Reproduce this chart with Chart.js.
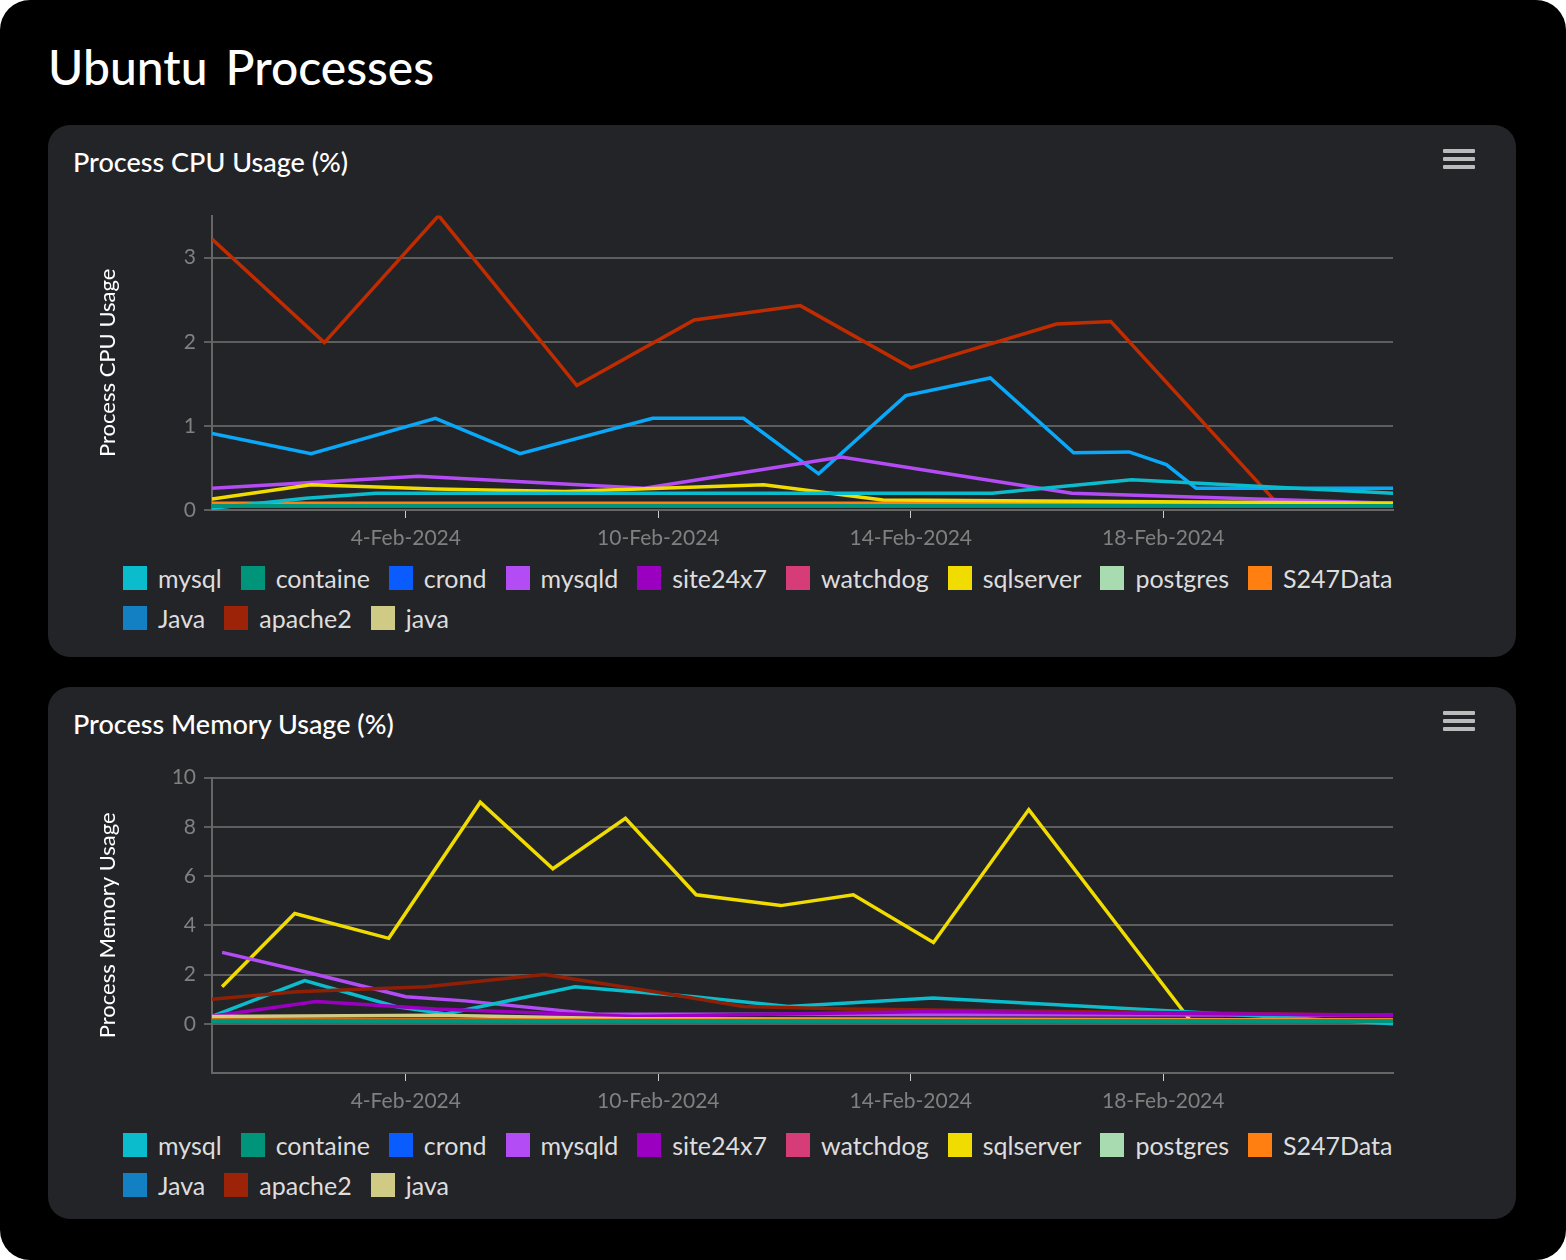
<!DOCTYPE html>
<html>
<head>
<meta charset="utf-8">
<script src="https://cdn.jsdelivr.net/npm/chart.js@4"></script>
<style>
  body { margin: 0; background: #fff; font-family: Lato, "Noto Sans", sans-serif; }
  #page { position: relative; width: 1566px; height: 1260px; background: #000; border-radius: 30px; overflow: hidden; }
  h1 { position: absolute; left: 48px; top: 38px; margin: 0; color: #fff; font-size: 48px; font-weight: 500; word-spacing: 6px; }
  .panel { position: absolute; left: 48px; width: 1468px; height: 532px; background: #232428; border-radius: 22px; }
  .panel h2 { position: absolute; left: 25px; top: 20px; margin: 0; color: #fff; font-size: 27px; font-weight: 500; }
  .menu { position: absolute; left: 1395px; top: 24px; width: 32px; }
  .menu div { height: 4px; background: #bbb; margin-bottom: 4px; border-radius: 1px; }
  canvas { position: absolute; }
  .legend { position: absolute; left: 75px; width: 1380px; display: flex; flex-wrap: wrap; row-gap: 16px; }
  .legend span { display: flex; align-items: center; color: #ddd; font-size: 25px; margin-right: 19px; height: 24px; }
  .legend i { width: 24px; height: 24px; margin-right: 11px; display: inline-block; }
</style>
</head>
<body>
<div id="page">
  <h1>Ubuntu Processes</h1>
  <div class="panel" style="top:125px"><h2>Process CPU Usage (%)</h2><div class="menu"><div></div><div></div><div></div></div><div class="legend" id="leg1" style="top:441px"></div></div>
  <div class="panel" style="top:687px"><h2>Process Memory Usage (%)</h2><div class="menu"><div></div><div></div><div></div></div><div class="legend" id="leg2" style="top:446px"></div></div>
  <canvas id="cpu" style="left:95px;top:195px;width:1420px;height:360px"></canvas>
  <canvas id="mem" style="left:95px;top:757px;width:1420px;height:361px"></canvas>
</div>
<script>
// x values are positions on the time axis (tick 3 = 4-Feb, 7 = 10-Feb, 11 = 14-Feb, 15 = 18-Feb)
const tickPositions = [3, 7, 11, 15];
const tickLabels = ['4-Feb-2024', '10-Feb-2024', '14-Feb-2024', '18-Feb-2024'];
const processNames = ['mysql', 'containe', 'crond', 'mysqld', 'site24x7', 'watchdog', 'sqlserver', 'postgres', 'S247Data', 'Java', 'apache2', 'java'];
const legendColors = ['#0bbccc', '#00947a', '#0a5cff', '#b44cf5', '#9b00c0', '#d63c78', '#f0dc00', '#a8dbb0', '#ff8010', '#1380c4', '#9c2208', '#cfcb85'];

// CPU usage
const cpuX = {
  mysql:     [-0.07, 1.42, 2.53, 5.2, 9.3, 12.29, 14.5, 18.64],
  flat:      [-0.07, 18.64],
  mysqld:    [-0.07, 1.58, 3.2, 6.78, 9.9, 13.55, 18.64],
  sqlserver: [-0.07, 1.5, 3.47, 5.52, 8.67, 10.56, 18.64],
  Java:      [-0.07, 1.5, 3.47, 4.81, 6.91, 8.35, 9.54, 10.92, 12.26, 13.58, 14.46, 15.05, 15.52, 18.64],
  apache2:   [-0.07, 1.71, 3.52, 5.71, 7.57, 9.25, 11.0, 13.31, 14.17, 16.78, 18.64]
};
const cpuMysql = [0.02, 0.14, 0.2, 0.2, 0.2, 0.2, 0.36, 0.2];
const cpuMysqld = [0.26, 0.33, 0.4, 0.26, 0.63, 0.2, 0.08];
const cpuSqlserver = [0.13, 0.3, 0.25, 0.22, 0.3, 0.12, 0.08];
const cpuJava = [0.91, 0.67, 1.09, 0.67, 1.09, 1.09, 0.43, 1.36, 1.57, 0.68, 0.69, 0.54, 0.26, 0.26];
const cpuApache2 = [3.22, 1.99, 3.5, 1.48, 2.26, 2.43, 1.69, 2.21, 2.24, 0.1, 0.08];
const cpuSmall = [0.05, 0.05];
const cpuS247 = [0.08, 0.08];

// Memory usage
const memX = {
  mysql:     [-0.07, 1.4, 2.84, 3.63, 5.68, 7.57, 9.06, 11.35, 15.28, 18.64],
  flat:      [-0.07, 18.64],
  mysqld:    [0.09, 1.42, 3.0, 3.94, 5.99, 18.64],
  site24x7:  [-0.07, 1.58, 3.47, 6.62, 11.35, 18.64],
  sqlserver: [0.09, 1.24, 2.73, 4.18, 5.33, 6.48, 7.6, 8.94, 10.09, 11.36, 12.87, 15.44, 18.64],
  apache2:   [-0.07, 1.27, 3.32, 5.2, 6.94, 8.35, 10.0, 18.64],
  java:      [-0.07, 3.5, 6.5, 18.64]
};
const memMysql = [0.3, 1.75, 0.7, 0.4, 1.5, 1.1, 0.7, 1.05, 0.5, 0.0];
const memMysqld = [2.9, 2.1, 1.1, 0.93, 0.4, 0.35];
const memSite24x7 = [0.3, 0.9, 0.6, 0.3, 0.5, 0.35];
const memSqlserver = [1.5, 4.48, 3.47, 9.0, 6.3, 8.35, 5.24, 4.8, 5.24, 3.3, 8.7, 0.1, 0.1];
const memApache2 = [1.0, 1.3, 1.5, 2.0, 1.3, 0.7, 0.6, 0.35];
const memJava = [0.3, 0.35, 0.2, 0.15];
const memSmall = [0.1, 0.1];
const memS247 = [0.15, 0.15];

function pts(xs, ys) { return xs.map((x, i) => ({ x: x, y: ys[i] })); }
function ds(name, color, data) {
  return { label: name, data: data, borderColor: color, backgroundColor: color, borderWidth: 3.5, pointRadius: 0, tension: 0 };
}

function buildLegend(id) {
  const el = document.getElementById(id);
  processNames.forEach((n, i) => {
    const s = document.createElement('span');
    s.innerHTML = '<i style="background:' + legendColors[i] + '"></i>' + n;
    el.appendChild(s);
  });
}
buildLegend('leg1');
buildLegend('leg2');

function isMajor(v) { return v >= 0 && Number.isInteger(v); }

function makeChart(id, datasets, yMin, yMax, yStep, yTitle, topPad) {
  return new Chart(document.getElementById(id), {
    type: 'line',
    data: { datasets: datasets },
    options: {
      responsive: false, animation: false,
      layout: { padding: { top: topPad, right: 122, left: 0, bottom: 0 } },
      plugins: { legend: { display: false }, tooltip: { enabled: false } },
      scales: {
        x: {
          type: 'linear', min: -0.07, max: 18.64,
          afterBuildTicks: s => { s.ticks = tickPositions.map(v => ({ value: v })); },
          afterFit: s => { s.height = 45; },
          ticks: { color: '#808080', font: { size: 21, family: 'Lato' }, padding: 8, maxRotation: 0,
                   callback: v => tickLabels[tickPositions.indexOf(v)] },
          grid: { drawOnChartArea: false, color: '#cccccc', tickLength: 8 },
          border: { color: '#666666', width: 2 }
        },
        y: {
          min: yMin, max: yMax,
          afterFit: s => { s.width = 117; },
          ticks: { stepSize: yStep, color: '#808080', font: { size: 21, family: 'Lato' }, padding: 8,
                   callback: v => (isMajor(v) ? v : '') },
          grid: { color: c => (c.tick && isMajor(c.tick.value) ? '#5e5e5e' : 'transparent'), lineWidth: 2, tickLength: 8 },
          border: { color: '#666666', width: 2 },
          title: { display: true, text: yTitle, color: '#ffffff', font: { size: 22, family: 'Lato' }, padding: 0 }
        }
      }
    }
  });
}

makeChart('cpu', [
  ds('containe', '#00947a', pts(cpuX.flat, cpuSmall)),
  ds('crond', '#0a5cff', pts(cpuX.flat, cpuSmall)),
  ds('site24x7', '#9b00c0', pts(cpuX.flat, cpuSmall)),
  ds('watchdog', '#d63c78', pts(cpuX.flat, cpuSmall)),
  ds('postgres', '#a8dbb0', pts(cpuX.flat, cpuSmall)),
  ds('java', '#cfcb85', pts(cpuX.flat, cpuSmall)),
  ds('mysql', '#0bbccc', pts(cpuX.mysql, cpuMysql)),
  ds('sqlserver', '#f0dc00', pts(cpuX.sqlserver, cpuSqlserver)),
  ds('mysqld', '#b44cf5', pts(cpuX.mysqld, cpuMysqld)),
  ds('S247Data', '#ff8010', pts(cpuX.flat, cpuS247)),
  ds('Java', '#0aa8f8', pts(cpuX.Java, cpuJava)),
  ds('apache2', '#c02c00', pts(cpuX.apache2, cpuApache2))
], 0, 3.5, 0.5, 'Process CPU Usage', 0);

makeChart('mem', [
  ds('containe', '#00947a', pts(memX.flat, memSmall)),
  ds('crond', '#0a5cff', pts(memX.flat, memSmall)),
  ds('watchdog', '#d63c78', pts(memX.flat, memSmall)),
  ds('postgres', '#a8dbb0', pts(memX.flat, memSmall)),
  ds('Java', '#1380c4', pts(memX.flat, memSmall)),
  ds('S247Data', '#ff8010', pts(memX.flat, memS247)),
  ds('java', '#cfcb85', pts(memX.java, memJava)),
  ds('site24x7', '#9b00c0', pts(memX.site24x7, memSite24x7)),
  ds('apache2', '#8f2005', pts(memX.apache2, memApache2)),
  ds('mysql', '#0bbccc', pts(memX.mysql, memMysql)),
  ds('mysqld', '#b44cf5', pts(memX.mysqld, memMysqld)),
  ds('sqlserver', '#f0dc00', pts(memX.sqlserver, memSqlserver))
], -2, 10, 2, 'Process Memory Usage', 20);
</script>
</body>
</html>
